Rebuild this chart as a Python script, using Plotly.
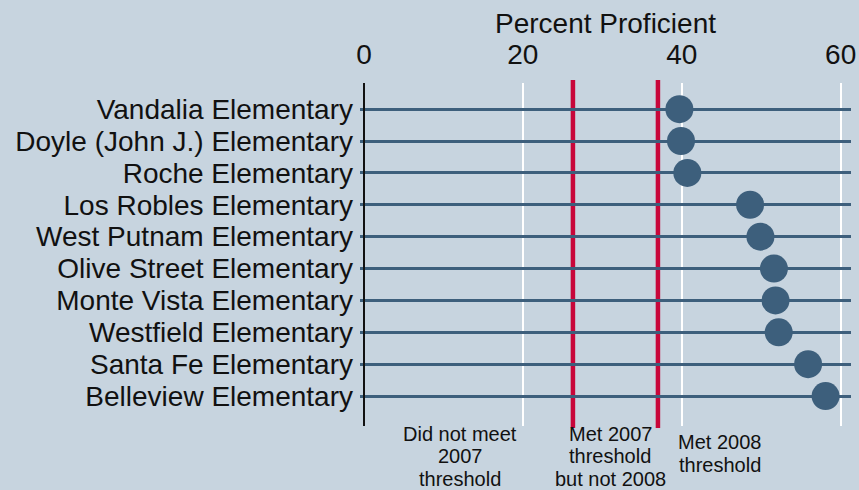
import plotly.graph_objects as go

schools = [
    "Vandalia Elementary",
    "Doyle (John J.) Elementary",
    "Roche Elementary",
    "Los Robles Elementary",
    "West Putnam Elementary",
    "Olive Street Elementary",
    "Monte Vista Elementary",
    "Westfield Elementary",
    "Santa Fe Elementary",
    "Belleview Elementary",
]
pct_proficient = [39.7, 39.9, 40.7, 48.6, 49.9, 51.6, 51.8, 52.2, 55.9, 58.1]
thresholds = [26.3, 37.0]
x_ticks = [0, 20, 40, 60]
x_title = "Percent Proficient"
zone_labels = [
    ["Did not meet", "2007", "threshold"],
    ["Met 2007", "threshold", "but not 2008"],
    ["Met 2008", "threshold"],
]

BG = "#c7d4df"
NAVY = "#3d5f7c"
RED = "#c8063a"
FONT = "Liberation Sans, Arial, sans-serif"

fig = go.Figure()
fig.add_trace(go.Scatter(
    x=pct_proficient,
    y=list(range(len(schools))),
    mode="markers",
    marker=dict(size=28, color=NAVY, line=dict(width=0)),
    hoverinfo="x+y",
    showlegend=False,
))

for t in thresholds:
    fig.add_shape(type="line", xref="x", yref="paper", x0=t, x1=t, y0=-0.006, y1=1.009,
                  line=dict(color=RED, width=4.5), layer="below")

plot_top, plot_bot = 83, 426


def paper_y(py):
    return (plot_bot - py) / (plot_bot - plot_top)


# zone label annotations, one per line for tight line spacing
zone_x = [12.1, 31.0, 44.8]
zone_top = [434, 434, 442]   # pixel centre of first line
line_gap = 22.5
for zx, zt, lines in zip(zone_x, zone_top, zone_labels):
    for i, txt in enumerate(lines):
        fig.add_annotation(x=zx, xref="x", y=paper_y(zt + i * line_gap), yref="paper",
                           text=txt, showarrow=False, xanchor="center", yanchor="middle",
                           borderpad=0,
                           font=dict(family=FONT, size=20, color="#111111"))

# axis title
fig.add_annotation(x=0.5, xref="paper", y=paper_y(23), yref="paper", text=x_title,
                   showarrow=False, xanchor="center", yanchor="middle",
                   font=dict(family=FONT, size=28, color="#111111"))

fig.update_layout(
    width=859, height=490,
    margin=dict(l=360, r=8, t=83, b=64, autoexpand=False),
    paper_bgcolor=BG, plot_bgcolor=BG,
    font=dict(family=FONT, color="#111111"),
    xaxis=dict(
        side="top", range=[-0.5, 61.3], tickvals=x_ticks, automargin=False,
        showgrid=True, gridcolor="white", gridwidth=1.5,
        zeroline=True, zerolinecolor="#111111", zerolinewidth=1.5,
        showline=False, ticks="", ticklabelstandoff=12,
        tickfont=dict(size=28, family=FONT, color="#111111"),
    ),
    yaxis=dict(
        range=[9.94, -0.82], tickvals=list(range(len(schools))), ticktext=schools,
        automargin=False,
        showgrid=True, gridcolor=NAVY, gridwidth=2.5,
        zeroline=False, showline=False, ticks="", ticklabelstandoff=6,
        tickfont=dict(size=28, family=FONT, color="#111111"),
    ),
)

fig.write_html("out.html", config={"displayModeBar": False},
               post_script="document.body.style.margin='0';document.body.style.overflow='hidden';")
